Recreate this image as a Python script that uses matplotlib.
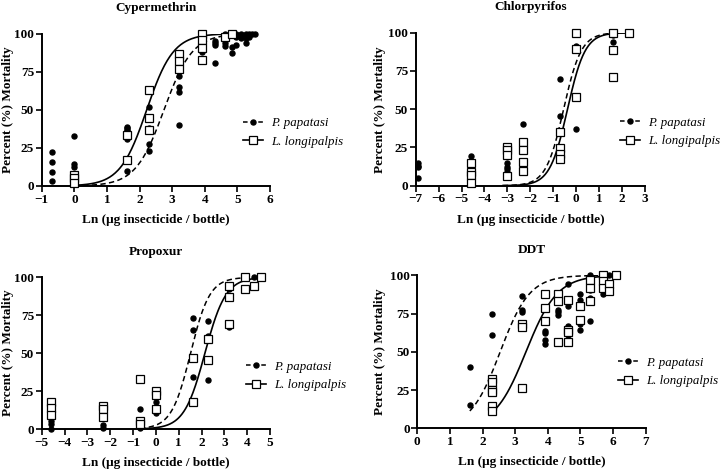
import numpy as np
import matplotlib
matplotlib.use("Agg")
import matplotlib.pyplot as plt

plt.rcParams['font.family'] = ['Liberation Serif', 'DejaVu Serif']

titles = ["Cypermethrin", "Chlorpyrifos", "Propoxur", "DDT"]
species = ["P. papatasi", "L. longipalpis"]

# ---- Cypermethrin ----
cyp_pp_x = [-0.69, -0.69, -0.69, -0.69, 0, 0, 0, 0,
            1.61, 1.61, 1.61, 1.61, 1.61, 1.61,
            2.30, 2.30, 2.30, 2.30,
            3.22, 3.22, 3.22, 3.22, 3.22,
            3.91, 3.91, 3.91, 3.91,
            4.31, 4.31, 4.31, 4.31,
            4.61, 4.61, 4.61, 4.61, 4.61, 4.61, 4.61,
            4.82, 4.82, 4.82, 4.97, 4.97, 4.97,
            5.12, 5.12, 5.12, 5.25, 5.25, 5.25, 5.35, 5.35, 5.45, 5.53]
cyp_pp_y = [22, 16, 9, 3, 33, 14.5, 12.5, 1,
            39, 38, 37, 36, 31, 10,
            52, 38, 27.5, 23,
            77, 72.5, 65, 62, 40,
            95, 93.5, 91.5, 88,
            95.5, 94, 92.5, 81,
            100, 99, 98, 97, 96, 94, 92,
            99, 91.5, 87, 100, 98, 92.5,
            100, 99, 97, 100, 97, 94, 100, 98, 100, 100]
cyp_ll_x = [0, 0, 0, 1.61, 1.61, 2.30, 2.30, 2.30,
            3.22, 3.22, 3.22, 3.91, 3.91, 3.91, 3.91, 4.61, 4.82]
cyp_ll_y = [7, 5, 2, 33.5, 17, 63, 44.5, 37,
            86.5, 82, 76.5, 100, 96, 90.5, 83, 98, 100]
cyp_fit_x0 = [2.75, 2.22]
cyp_fit_k = [2.3, 2.45]
cyp_fit_range = [0.0, 5.55]

# ---- Chlorpyrifos ----
chl_pp_x = [-6.91, -6.91, -6.91, -6.91,
            -4.61, -4.61, -4.61, -4.61, -4.61,
            -3.0, -3.0, -3.0, -3.0,
            -2.30, -2.30, -2.30,
            -0.69, -0.69, -0.69,
            0, 0, 0, 1.61, 1.61, 1.61, 2.30]
chl_pp_y = [15, 13, 12, 5,
            19.5, 16, 11, 8, 5,
            15, 12.5, 11, 9,
            40, 13, 11,
            69.5, 45.5, 23,
            100, 91.5, 37, 100, 98.5, 94, 100]
chl_ll_x = [-4.61, -4.61, -4.61, -4.61,
            -3.0, -3.0, -3.0, -3.0,
            -2.30, -2.30, -2.30, -2.30,
            -0.69, -0.69, -0.69, -0.69,
            0, 0, 0, 1.61, 1.61, 1.61, 2.30]
chl_ll_y = [15, 9, 7, 2,
            25, 23.5, 20, 6.5,
            28.5, 23.5, 15.5, 9.5,
            35, 24.5, 20.5, 17.5,
            100, 89.5, 58, 100, 89, 71, 100]
chl_fit_x0 = [-0.55, -0.38]
chl_fit_k = [2.6, 2.6]
chl_fit_range = [-3.2, 2.30]

# ---- Propoxur ----
pro_pp_x = [-4.61, -4.61, -4.61, -2.30, -2.30, -0.69, -0.69,
            0, 0, 0, 1.61, 1.61, 1.61, 2.30, 2.30, 2.30,
            3.22, 3.22, 3.91, 4.30]
pro_pp_y = [5, 3, 0, 2.5, 0.5, 13, 0.5,
            18, 12.5, 10.5, 73.5, 65.5, 34, 71, 61, 32.5,
            92.5, 67, 100, 100]
pro_ll_x = [-4.61, -4.61, -4.61, -2.30, -2.30, -2.30,
            -0.69, -0.69, -0.69, 0, 0, 0,
            1.61, 1.61, 2.30, 2.30,
            3.22, 3.22, 3.22, 3.91, 3.91, 4.30, 4.61]
pro_ll_y = [17.5, 14, 9.5, 15, 13.5, 8,
            33, 5.5, 3, 25, 22.5, 13,
            47, 17.5, 59.5, 45.5,
            94.5, 87, 69, 100, 92.5, 94.5, 100]
pro_fit_x0 = [1.52, 2.15]
pro_fit_k = [2.4, 2.2]
pro_fit_range = [-0.69, 4.61]

# ---- DDT ----
ddt_pp_x = [1.61, 1.61, 2.30, 2.30, 2.30, 2.30, 2.30,
            3.22, 3.22, 3.22, 3.91, 3.91, 3.91, 3.91,
            4.30, 4.30, 4.30, 4.30, 4.30,
            4.61, 4.61, 4.61, 4.61, 4.61,
            5.0, 5.0, 5.0, 5.0,
            5.30, 5.30, 5.30, 5.30, 5.30,
            5.70, 5.70, 5.86]
ddt_pp_y = [40, 15.5, 75, 61, 30.5, 26.5, 24,
            86.5, 77.5, 76, 63.5, 62.5, 58, 55,
            88, 87.5, 77.5, 76, 74,
            94, 80, 67, 66, 61,
            87.5, 84, 68, 64.5,
            100, 99, 90.5, 85, 70,
            100, 87.5, 100]
ddt_ll_x = [2.30, 2.30, 2.30, 2.30, 2.30, 2.30,
            3.22, 3.22, 3.22, 3.91, 3.91, 3.91,
            4.30, 4.30, 4.30, 4.61, 4.61, 4.61, 4.61,
            5.0, 5.0, 5.30, 5.30, 5.30,
            5.70, 5.70, 5.70, 5.86, 5.86, 6.10]
ddt_ll_y = [32, 30.5, 25, 24, 14.5, 11,
            68, 66, 26.5, 88, 78.5, 70,
            88, 83.5, 56.5, 84, 64, 63, 56.5,
            80, 70.5, 97, 92, 83,
            100, 96, 92, 94, 89.5, 100]
ddt_fit_x0 = [2.54, 3.33]
ddt_fit_k = [2.21, 2.08]
ddt_fit_range = [[1.61, 6.0], [2.30, 6.1]]

panels = [
    dict(ppx=cyp_pp_x, ppy=cyp_pp_y, llx=cyp_ll_x, lly=cyp_ll_y, x0=cyp_fit_x0, k=cyp_fit_k,
         rng=[cyp_fit_range, cyp_fit_range], xlim=(-1, 6), xticks=range(-1, 7),
         rect=(41.7, 33.7, 270, 186), leg=(243, 132.5), ylab_x=8),
    dict(ppx=chl_pp_x, ppy=chl_pp_y, llx=chl_ll_x, lly=chl_ll_y, x0=chl_fit_x0, k=chl_fit_k,
         rng=[chl_fit_range, chl_fit_range], xlim=(-7, 3), xticks=range(-7, 4),
         rect=(415.7, 32.7, 645, 185.7), leg=(620, 132), ylab_x=380),
    dict(ppx=pro_pp_x, ppy=pro_pp_y, llx=pro_ll_x, lly=pro_ll_y, x0=pro_fit_x0, k=pro_fit_k,
         rng=[pro_fit_range, pro_fit_range], xlim=(-5, 5), xticks=range(-5, 6),
         rect=(41.7, 277.3, 270, 429), leg=(246, 376), ylab_x=8),
    dict(ppx=ddt_pp_x, ppy=ddt_pp_y, llx=ddt_ll_x, lly=ddt_ll_y, x0=ddt_fit_x0, k=ddt_fit_k,
         rng=ddt_fit_range, xlim=(0, 7), xticks=range(0, 8),
         rect=(417.3, 275.3, 645.7, 428.3), leg=(618, 372), ylab_x=380),
]

W, H = 720, 470
fig = plt.figure(figsize=(7.2, 4.7), dpi=100)

for i, p in enumerate(panels):
    l, t, r, b = p['rect']
    ax = fig.add_axes([l / W, 1 - b / H, (r - l) / W, (b - t) / H])
    for j in range(2):
        lo, hi = p['rng'][j]
        xs = np.linspace(lo, hi, 200)
        ys = 100.0 / (1.0 + np.exp(-p['k'][j] * (xs - p['x0'][j])))
        if j == 0:
            ax.plot(xs, ys, color='black', lw=1.1, dashes=(3.5, 2.2), zorder=2)
        else:
            ax.plot(xs, ys, color='black', lw=1.2, zorder=2)
    ax.plot(p['ppx'], p['ppy'], 'o', color='black', ms=3.6, zorder=3, clip_on=False)
    ax.plot(p['llx'], p['lly'], 's', mfc='white', mec='black', mew=0.9, ms=5.8, zorder=4, clip_on=False)

    ax.set_xlim(*p['xlim'])
    ax.set_ylim(0, 100)
    ax.set_xticks(list(p['xticks']))
    ax.set_yticks([0, 25, 50, 75, 100])
    for s in ['top', 'right']:
        ax.spines[s].set_visible(False)
    for s in ['left', 'bottom']:
        ax.spines[s].set_linewidth(1.4)
    ax.tick_params(direction='out', length=4, width=1.2, labelsize=9.5, pad=1.5)
    for lab in ax.get_xticklabels() + ax.get_yticklabels():
        lab.set_fontweight('bold')
    ax.set_xlabel("Ln (μg insecticide / bottle)", fontsize=9.5, fontweight='bold', labelpad=6)
    ax.set_title(titles[i], fontsize=9.5, fontweight='bold', pad=16)
    fig.text(p['ylab_x'] / W, 1 - ((t + b) / 2) / H, "Percent (%) Mortality", rotation=90,
             ha='center', va='center', fontsize=9.5, fontweight='bold')

    h1, = ax.plot([], [], color='black', lw=1.1, dashes=(3.0, 2.0), marker='o', ms=3.6)
    h2, = ax.plot([], [], color='black', lw=1.2, marker='s', mfc='white', mec='black', mew=0.9, ms=5.8)
    lx, ly = p['leg']
    ax.legend([h1, h2], species, loc='center left', bbox_to_anchor=(lx / W, 1 - ly / H),
              bbox_transform=fig.transFigure, frameon=False, prop={'style': 'italic', 'size': 9.3},
              handlelength=1.55, handletextpad=0.6, labelspacing=0.5, borderaxespad=0, borderpad=0)

fig.savefig("out.png", dpi=100)
